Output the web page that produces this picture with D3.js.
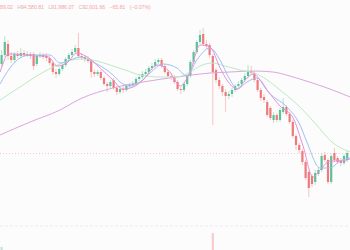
<!DOCTYPE html>
<html>
<head>
<meta charset="utf-8">
<script src="https://cdn.jsdelivr.net/npm/d3@7"></script>
<style>
  html, body { margin: 0; padding: 0; background: #fcfcfd; }
  svg { display: block; }
</style>
</head>
<body>
<script>
// OHLC per bar (USD)
const open = [101500,102400,103500,102300,101900,102500,102300,102600,102400,102500,
  102500,101500,102300,102400,102300,102100,101600,100700,100500,101000,
  101400,102000,102400,102700,103100,102300,102200,102000,101800,100700,
  100500,100700,100100,99500,99300,99900,99100,98700,99000,98900,
  99300,99400,99500,100000,100200,100500,100700,101100,101300,101700,
  101900,101300,100700,100300,100200,99700,99000,98900,99500,100300,
  101700,102700,103700,104500,103500,103400,102300,100900,99900,99300,
  98700,98300,98500,98900,99300,99500,99900,100300,100800,100600,
  99900,98900,98200,97700,97100,95900,96400,95900,96700,97200,
  96500,95700,94300,93400,92800,91700,90700,90300,89700,90500,
  90900,92400,91900,89700,92600,92100,91900,91600,91900];
const high = [102900,104300,103900,102700,102700,102800,103100,102900,102800,102700,
  102700,102500,102700,102600,102600,102300,101800,101000,101200,101600,
  102200,102600,103000,103400,104600,102600,102400,102300,102000,100900,
  100900,100900,100300,99700,99900,100100,99300,99200,99300,99500,
  99600,99800,100200,100500,100800,101000,101300,101600,102000,102100,
  102100,101500,100900,100600,100400,99900,99200,99700,100500,101900,
  102900,103900,104900,105100,103900,103600,102500,101100,100200,99500,
  99000,98800,99100,99500,99800,100100,100600,101400,101300,100800,
  100100,99100,98500,97900,97300,96700,96600,97100,98100,97400,
  96700,95900,94500,93600,93000,91900,90900,90500,90900,91200,
  92600,92700,92100,92500,93100,92300,92100,92500,92900];
const low = [101100,102200,101900,101600,101700,102100,102100,102200,102200,102000,
  100900,101300,102100,102000,101800,101400,100400,100100,100300,100800,
  101200,101800,102200,102500,102100,101900,101700,101600,100100,100200,
  100300,99900,99300,98700,99100,98900,98400,98500,98600,98700,
  99100,99200,99300,99800,100000,100300,100500,100900,101100,101500,
  101100,100500,100100,99900,99500,98800,98500,98700,99300,100100,
  101500,102500,103500,103300,103000,102100,95400,99600,99000,98300,
  96700,98000,98200,98700,99100,99300,99700,100100,100400,99700,
  98700,97800,97600,96200,95900,95600,95700,95700,96500,96300,
  95500,94100,92900,92600,91400,89900,88200,89200,89400,90300,
  90700,91700,89500,89500,91700,91500,91300,91400,91700];
const close = [102400,103700,102300,101900,102500,102300,102600,102400,102500,102300,
  101300,102300,102400,102200,102100,101600,100700,100500,101000,101400,
  102000,102400,102700,103100,102300,102200,102000,101800,100700,100500,
  100700,100100,99500,99300,99700,99100,98700,99000,98900,99300,
  99400,99500,100000,100200,100500,100700,101100,101300,101700,101900,
  101300,100700,100300,100200,99700,99000,98900,99500,100300,101700,
  102700,103700,104400,103500,103300,102400,100700,99900,99300,98700,
  98300,98500,98900,99300,99500,99900,100300,100800,100600,99900,
  98900,98100,97900,96400,96100,96400,95900,96900,97200,96500,
  95700,94300,93400,92900,91700,90100,89100,89500,90600,90900,
  92300,91900,89700,92300,91900,91700,91600,92300,92600];

// moving averages: [bar index, price]
const maFast = [[-0.5,100700],[0.4,101500],[2,102500],[4.2,102500],[7.3,102400],[10.4,102300],
  [13.6,102300],[15.1,102100],[17.3,101300],[20.4,101600],[23.6,102600],[26.7,102200],
  [30.8,101100],[34.8,99900],[37.9,99000],[41.1,99200],[44.2,99900],[48.6,101400],
  [52.6,100700],[55.8,99300],[58.9,100700],[62,103400],[65.1,103200],[68.3,101100],
  [70.4,99900],[73.6,99000],[76.7,100100],[78.6,100500],[82.9,98900],[87,97300],
  [91.1,96100],[94.2,93300],[97.3,90200],[99.5,90900],[102.6,91800],[105.8,91800],[108.9,92000]];
const maMid = [[-0.5,99500],[2.6,101100],[5.75,102100],[8.9,102400],[15.1,102400],[18.25,101600],
  [21.4,101900],[24.5,102200],[28.6,101700],[34.8,100400],[37,99700],[40.1,99300],
  [43.25,99700],[46.4,100600],[50.4,101500],[54.8,101100],[57.9,100300],[61,101900],
  [65.1,103100],[68.25,101900],[71.4,99900],[73.6,99000],[76.7,99700],[79.8,100100],
  [83.9,98500],[89.2,97200],[93.25,95400],[95.4,93700],[99.5,91100],[102.6,91100],
  [105.75,91800],[108.9,92100]];
const maSlow = [[-0.5,97900],[5.75,99200],[12,100500],[18.25,101500],[24.5,102000],[29.8,101800],
  [33.9,101400],[38.6,100900],[43.25,100400],[49.5,100200],[54.8,100200],[58.9,100700],
  [62,101300],[65.75,101600],[69.8,101300],[74.5,100900],[79.8,100500],[83.9,99700],
  [87,98900],[93.25,97200],[97.9,95600],[103.6,93600],[108.9,92700]];
const maLong = [[-0.5,94400],[8.9,95700],[18.25,96900],[24.5,98000],[34.8,99100],[44.2,99700],
  [54.8,100200],[65.1,100600],[71.4,100700],[78.6,100800],[84.8,100700],[90.1,100300],
  [94.2,99900],[102.6,99000],[108.9,98200]];

// volume bars that reach into view: [bar index, volume]
const volume = [[0, 3000], [66, 17000]];

const lastPrice = 92600;
const paneLevel = 85300;

// status line (its start is cut off at the left edge)
const legendLabels = ['', 'H', 'L', 'C', '', ''];
const legendValues = ['89.02', '94,580.81', '91,986.07', '92,601.66', '\u221265.81', '(\u22120.07%)'];

const W = 350, H = 250;
const svg = d3.select('body').append('svg').attr('width', W).attr('height', H);
svg.append('rect').attr('width', W).attr('height', H).attr('fill', '#fcfcfd');

const x = d3.scaleLinear().domain([0, 108]).range([1.6, 347.2]);
const y = d3.scaleLinear().domain([82900, 107900]).range([H, 0]);
const v = d3.scaleLinear().domain([0, 40000]).range([H, 210]);

const up = '#5cc196', upWick = '#a6dcc3';
const dn = '#ee7a7c', dnWick = '#f5b6b6';

// guide lines
svg.append('line').attr('x1', 0).attr('x2', W)
  .attr('y1', y(paneLevel)).attr('y2', y(paneLevel))
  .attr('stroke', '#e9ecf4').attr('stroke-dasharray', '3,2');
svg.append('line').attr('x1', 0).attr('x2', W)
  .attr('y1', y(lastPrice) + 0.5).attr('y2', y(lastPrice) + 0.5)
  .attr('stroke', '#f6c9c9').attr('stroke-dasharray', '1,2');

// volume
svg.selectAll('rect.vol').data(volume).enter().append('rect')
  .attr('class', 'vol')
  .attr('x', d => x(d[0]) - 1.1).attr('width', 2.2)
  .attr('y', d => v(d[1])).attr('height', d => H - v(d[1]))
  .attr('fill', d => close[d[0]] >= open[d[0]] ? '#bfe6d6' : '#f6cccc');

// candles
const bars = d3.range(close.length);
const g = svg.append('g');
g.selectAll('line.wick').data(bars).enter().append('line')
  .attr('x1', i => x(i)).attr('x2', i => x(i))
  .attr('y1', i => y(high[i])).attr('y2', i => y(low[i]))
  .attr('stroke', i => close[i] >= open[i] ? upWick : dnWick)
  .attr('stroke-width', 0.8);
g.selectAll('rect.body').data(bars).enter().append('rect')
  .attr('x', i => x(i) - 1.1).attr('width', 2.2)
  .attr('y', i => y(Math.max(open[i], close[i])))
  .attr('height', i => Math.max(0.8, Math.abs(y(open[i]) - y(close[i]))))
  .attr('fill', i => close[i] >= open[i] ? up : dn);

// moving averages
const line = d3.line().x(d => x(d[0])).y(d => y(d[1])).curve(d3.curveMonotoneX);
[[maLong, '#dca6dc'], [maSlow, '#bdeac3'], [maMid, '#9fc0f0'], [maFast, '#e88fd5']]
  .forEach(([data, c]) => {
    svg.append('path').attr('d', line(data))
      .attr('fill', 'none').attr('stroke', c).attr('stroke-width', 1);
  });

// status line
const status = svg.append('text').attr('x', 0).attr('y', 8.5)
  .style('font-family', '"Liberation Sans", Arial, sans-serif')
  .style('font-size', '5.2px');
legendValues.forEach((val, k) => {
  if (legendLabels[k]) {
    status.append('tspan').attr('dx', k ? 4.2 : 0).attr('fill', '#bcc3cf').text(legendLabels[k]);
    status.append('tspan').attr('fill', '#f3a5a5').text(val);
  } else {
    status.append('tspan').attr('dx', k ? 4.2 : 0).attr('fill', '#f3a5a5').text(val);
  }
});
</script>
</body>
</html>
